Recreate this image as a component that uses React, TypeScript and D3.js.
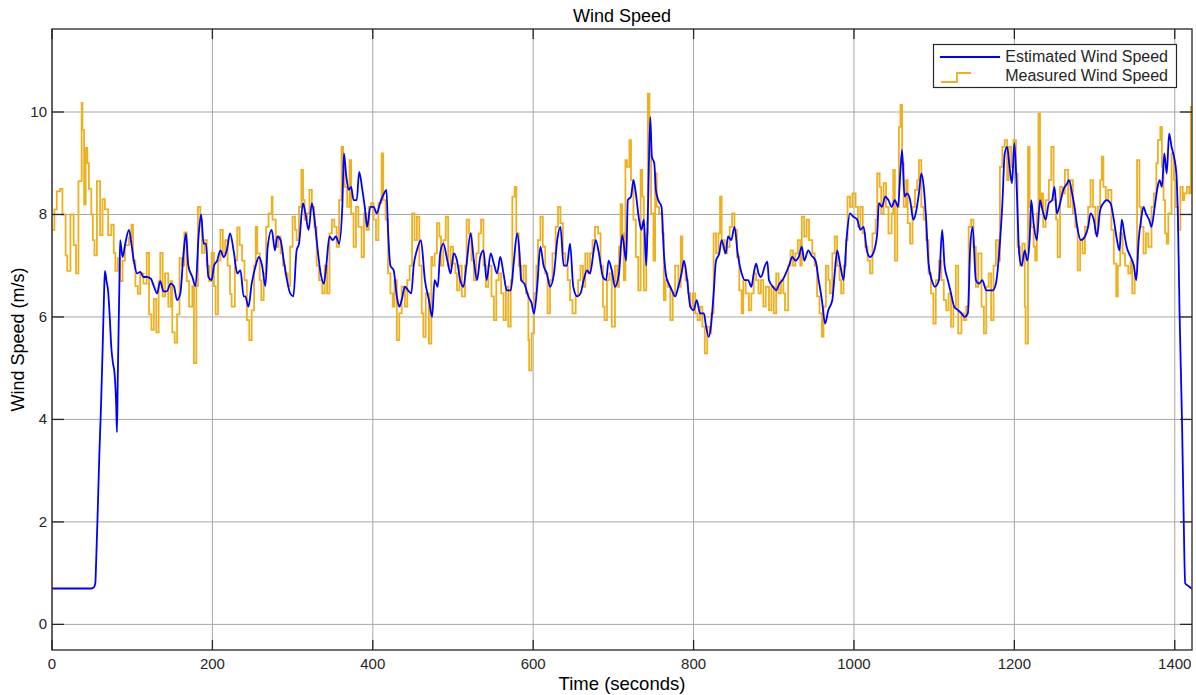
import React, { useEffect, useRef } from "react";
import * as d3 from "d3";

// time (s), speed (m/s)
const estimated: [number, number][] = [
  [0, 0.7], [48, 0.7], [52, 0.72], [54, 0.8], [55, 1.2], [57, 2.2], [59, 3.3], [61, 4.2], [63, 5.3], [65, 6.5], [66, 6.9],
  [68, 6.7], [70, 6.5], [72, 6.0], [74, 5.4], [76, 5.1], [78, 4.9], [80, 4.3], [81, 3.75], [82, 4.8], [84, 6.6], [85, 7.5],
  [88, 7.17], [91, 7.4], [96, 7.7], [99, 7.43], [102, 7.1], [106, 6.85], [110, 6.88], [114, 6.78], [118, 6.78], [123, 6.75],
  [127, 6.6], [131, 6.46], [135, 6.7], [139, 6.5], [143, 6.5], [148, 6.65], [152, 6.6], [156, 6.33], [160, 6.46], [164, 7.24],
  [167, 7.63], [170, 7.0], [175, 6.78], [179, 6.6], [183, 7.63], [186, 8.0], [189, 7.43], [192, 7.43], [195, 6.78], [199, 6.72],
  [202, 7.0], [206, 7.1], [210, 7.3], [214, 7.17], [218, 7.3], [222, 7.63], [227, 7.24], [231, 6.85], [235, 6.91], [239, 6.4],
  [241, 6.4], [245, 6.2], [249, 6.65], [254, 7.0], [258, 7.17], [262, 7.0], [266, 6.6], [269, 7.37], [274, 7.7], [278, 7.3],
  [281, 7.57], [285, 7.5], [289, 7.1], [293, 6.72], [297, 6.46], [301, 6.4], [305, 7.3], [308, 7.43], [313, 8.22], [316, 8.02],
  [320, 7.7], [324, 8.22], [327, 7.96], [330, 7.5], [335, 6.85], [339, 6.65], [342, 7.0], [346, 7.57], [350, 7.5], [354, 7.57],
  [358, 7.43], [362, 8.15], [364, 9.19], [367, 8.74], [370, 8.48], [373, 8.54], [376, 8.28], [380, 8.28], [383, 8.83], [387, 8.48],
  [390, 8.15], [393, 7.76], [397, 8.15], [401, 8.15], [405, 8.02], [409, 8.22], [414, 8.41], [417, 8.48], [419, 7.7], [422, 7.0],
  [426, 6.91], [430, 6.4], [433, 6.2], [436, 6.33], [440, 6.59], [444, 6.52], [448, 6.46], [451, 7.0], [455, 7.3], [460, 7.5],
  [465, 6.72], [470, 6.33], [474, 6.0], [477, 6.72], [481, 6.59], [484, 7.24], [488, 7.43], [493, 7.1], [497, 6.85], [501, 7.24],
  [505, 7.1], [509, 6.72], [513, 6.59], [517, 7.04], [522, 7.63], [526, 7.1], [530, 6.72], [534, 7.17], [538, 7.3], [542, 6.72],
  [547, 7.24], [551, 7.04], [555, 6.85], [559, 7.17], [563, 6.85], [567, 6.52], [572, 6.52], [576, 7.1], [580, 7.63], [583, 7.24],
  [585, 6.72], [589, 6.65], [594, 6.4], [598, 6.27], [601, 6.07], [605, 6.59], [609, 7.37], [613, 7.0], [617, 6.85], [621, 6.59],
  [626, 6.85], [630, 7.5], [634, 7.76], [638, 7.0], [642, 7.0], [646, 7.43], [650, 6.59], [655, 6.4], [659, 6.46], [663, 6.72],
  [667, 6.91], [671, 6.85], [675, 7.24], [678, 7.5], [682, 7.24], [687, 6.78], [691, 6.72], [694, 7.1], [698, 6.91], [702, 6.59],
  [707, 6.85], [711, 7.6], [716, 7.1], [718, 8.28], [722, 8.35], [725, 8.67], [728, 8.41], [732, 7.9], [735, 7.7], [738, 7.9],
  [741, 7.0], [743, 8.02], [746, 9.9], [748, 9.13], [751, 9.0], [753, 8.48], [756, 8.28], [760, 8.15], [763, 7.24], [766, 6.78],
  [769, 6.65], [773, 6.52], [777, 6.4], [781, 6.59], [785, 6.85], [788, 7.1], [792, 6.72], [796, 6.2], [800, 6.13], [804, 6.33],
  [808, 6.07], [813, 6.07], [815, 5.87], [819, 5.61], [822, 5.87], [825, 6.46], [828, 7.1], [832, 7.24], [835, 7.5], [840, 7.24],
  [843, 7.57], [847, 7.5], [851, 7.76], [855, 7.24], [860, 6.85], [864, 6.72], [868, 6.72], [872, 6.59], [875, 6.85], [878, 7.04],
  [881, 6.85], [884, 6.78], [889, 7.0], [892, 7.08], [894, 6.72], [899, 6.59], [903, 6.52], [907, 6.65], [911, 6.72], [915, 6.85],
  [919, 7.0], [923, 7.17], [927, 7.1], [931, 7.17], [935, 7.37], [938, 7.1], [943, 7.3], [947, 7.2], [952, 7.1], [956, 6.72],
  [960, 6.33], [964, 5.87], [968, 6.13], [973, 6.33], [976, 6.85], [979, 7.3], [983, 7.0], [987, 6.72], [991, 7.57], [995, 8.02],
  [999, 7.96], [1004, 7.9], [1008, 7.7], [1012, 7.76], [1016, 7.3], [1020, 7.17], [1024, 7.24], [1029, 7.63], [1031, 8.22],
  [1035, 8.15], [1039, 8.35], [1043, 8.28], [1047, 8.15], [1051, 8.28], [1055, 8.15], [1058, 8.87], [1060, 9.26], [1063, 8.35],
  [1066, 8.41], [1070, 8.28], [1074, 7.9], [1077, 8.02], [1081, 8.41], [1084, 8.8], [1087, 8.54], [1090, 7.9], [1093, 7.04],
  [1097, 6.72], [1101, 6.59], [1106, 6.72], [1110, 7.7], [1113, 7.0], [1117, 6.72], [1121, 6.46], [1125, 6.2], [1130, 6.13],
  [1134, 6.07], [1138, 6.0], [1142, 6.07], [1145, 7.37], [1148, 7.76], [1152, 6.72], [1156, 6.65], [1160, 6.72], [1165, 6.52],
  [1169, 6.52], [1173, 6.52], [1177, 6.65], [1181, 7.24], [1185, 8.2], [1188, 9.19], [1191, 9.32], [1194, 8.93], [1197, 8.61],
  [1200, 9.39], [1203, 8.48], [1206, 7.24], [1209, 7.0], [1213, 7.3], [1216, 7.1], [1219, 7.5], [1221, 8.28], [1224, 7.83],
  [1228, 7.5], [1232, 8.28], [1235, 8.09], [1239, 7.9], [1243, 8.22], [1247, 8.28], [1250, 8.54], [1253, 8.02], [1257, 8.22],
  [1261, 8.48], [1266, 8.61], [1268, 8.67], [1272, 8.41], [1275, 8.15], [1279, 7.7], [1283, 7.5], [1288, 7.57], [1292, 7.76],
  [1295, 8.02], [1299, 7.9], [1303, 7.57], [1307, 8.09], [1311, 8.22], [1315, 8.28], [1320, 8.22], [1324, 7.9], [1328, 7.5],
  [1331, 7.3], [1334, 7.9], [1337, 7.63], [1340, 7.37], [1345, 7.17], [1349, 7.0], [1352, 6.72], [1355, 7.5], [1358, 7.9],
  [1361, 8.15], [1364, 8.02], [1368, 7.9], [1371, 7.76], [1375, 8.15], [1378, 8.48], [1381, 8.67], [1384, 8.54], [1387, 9.19],
  [1390, 8.8], [1393, 9.58], [1396, 9.32], [1399, 9.13], [1402, 8.8], [1404, 7.9], [1406, 6.07], [1409, 4.0], [1411, 2.2],
  [1413, 0.8], [1417, 0.75], [1421, 0.7],
];

const measured: [number, number][] = [
  [0, 7.7], [3, 8.1], [6, 8.45], [10, 8.5], [13, 8.0], [17, 7.2], [19, 6.9], [23, 8.0], [27, 7.4], [30, 6.85], [33, 8.65],
  [37, 10.18], [38, 9.65], [40, 8.2], [42, 9.3], [44, 9.0], [46, 8.5], [49, 8.0], [51, 7.5], [53, 7.2], [56, 8.65], [60, 7.6],
  [63, 8.3], [66, 8.1], [70, 7.6], [74, 7.8], [77, 7.25], [79, 6.9], [82, 7.15], [85, 6.7], [88, 7.1], [91, 7.4], [96, 7.55],
  [99, 7.8], [101, 7.1], [104, 6.6], [107, 6.45], [110, 6.85], [114, 6.65], [118, 7.25], [121, 6.05], [124, 5.75], [127, 6.35],
  [130, 5.7], [133, 6.7], [135, 7.25], [138, 6.4], [141, 6.85], [145, 6.2], [148, 6.7], [150, 5.7], [153, 5.5], [156, 6.05],
  [159, 7.15], [162, 7.0], [165, 7.65], [168, 6.7], [171, 6.2], [175, 6.6], [177, 5.1], [180, 6.6], [182, 8.15], [185, 7.9],
  [187, 7.25], [190, 7.5], [193, 7.0], [196, 6.7], [199, 7.25], [202, 6.6], [204, 6.05], [207, 7.1], [210, 7.7], [213, 7.25],
  [216, 7.5], [219, 7.0], [222, 6.45], [224, 6.2], [228, 7.1], [231, 7.75], [234, 7.4], [237, 7.1], [240, 6.72], [243, 5.94],
  [246, 5.55], [249, 6.13], [252, 7.0], [254, 7.76], [256, 7.24], [259, 6.72], [261, 6.33], [264, 6.85], [267, 7.76], [270, 8.02],
  [274, 8.35], [275, 7.9], [279, 7.37], [282, 7.57], [285, 7.24], [288, 7.0], [291, 6.85], [294, 6.6], [297, 7.37], [300, 7.96],
  [303, 7.7], [305, 7.5], [308, 8.15], [311, 8.87], [313, 8.28], [315, 7.9], [318, 8.02], [321, 8.48], [324, 8.15], [327, 7.76],
  [330, 7.0], [333, 6.72], [337, 6.46], [340, 7.0], [343, 6.46], [346, 7.63], [349, 7.9], [352, 7.76], [355, 7.37], [358, 8.28],
  [361, 9.32], [363, 8.93], [365, 8.54], [368, 8.15], [371, 9.06], [373, 8.02], [376, 7.37], [379, 8.15], [382, 7.76], [386, 7.17],
  [389, 8.02], [392, 7.7], [395, 8.15], [398, 8.22], [401, 7.9], [404, 7.5], [407, 8.22], [411, 9.19], [413, 8.28], [416, 7.9],
  [419, 6.85], [422, 6.46], [425, 6.2], [427, 6.72], [430, 5.55], [433, 6.07], [436, 6.59], [440, 6.2], [443, 6.72], [446, 7.0],
  [449, 8.02], [452, 7.5], [455, 7.96], [458, 7.0], [461, 6.07], [463, 5.61], [466, 6.46], [470, 5.48], [473, 7.17], [474, 7.0],
  [477, 7.24], [480, 7.83], [483, 7.57], [485, 7.0], [488, 7.5], [491, 7.96], [494, 7.0], [497, 7.37], [500, 7.04], [503, 6.85],
  [505, 6.52], [508, 7.0], [511, 6.4], [515, 7.0], [517, 7.9], [520, 7.63], [523, 7.1], [526, 6.72], [529, 7.24], [532, 7.63],
  [535, 7.9], [538, 7.0], [541, 6.59], [544, 7.0], [548, 6.4], [551, 5.94], [554, 6.72], [557, 6.85], [560, 6.46], [563, 5.94],
  [566, 6.59], [569, 5.81], [572, 6.72], [574, 8.35], [577, 8.54], [579, 7.63], [582, 7.0], [585, 6.72], [588, 7.0], [591, 6.46],
  [594, 5.55], [595, 4.96], [598, 5.68], [601, 6.46], [604, 7.0], [606, 7.5], [609, 7.96], [612, 7.37], [615, 6.85], [618, 6.07],
  [621, 6.72], [624, 7.24], [628, 7.76], [631, 8.15], [634, 7.83], [637, 7.24], [640, 7.0], [643, 6.72], [646, 6.33], [649, 6.07],
  [653, 6.4], [656, 6.72], [659, 7.0], [662, 6.59], [665, 7.24], [668, 6.85], [671, 7.24], [674, 7.5], [677, 7.76], [681, 7.63],
  [684, 7.0], [687, 6.2], [689, 5.94], [692, 6.72], [695, 6.85], [698, 5.81], [702, 7.0], [705, 6.59], [707, 7.37], [709, 8.2],
  [711, 7.63], [713, 6.72], [715, 9.06], [717, 8.93], [720, 9.45], [722, 8.67], [725, 7.9], [728, 7.17], [731, 6.52], [734, 8.87],
  [736, 8.35], [738, 6.52], [741, 7.63], [743, 10.36], [745, 9.32], [747, 8.02], [750, 7.1], [752, 8.8], [754, 8.15], [757, 8.02],
  [761, 7.63], [763, 6.33], [765, 6.72], [768, 6.59], [771, 5.94], [774, 6.46], [777, 7.0], [781, 6.59], [784, 7.57], [786, 7.0],
  [790, 6.72], [793, 6.46], [796, 6.2], [799, 6.46], [802, 6.07], [805, 5.94], [808, 6.2], [811, 5.81], [814, 5.29], [817, 5.81],
  [820, 5.68], [822, 6.07], [825, 7.63], [828, 7.24], [831, 7.63], [833, 8.35], [835, 7.5], [839, 7.24], [842, 7.37], [845, 7.76],
  [848, 8.02], [851, 7.7], [854, 7.17], [857, 6.52], [860, 6.07], [862, 6.72], [865, 6.46], [869, 6.13], [872, 6.46], [875, 6.85],
  [878, 6.72], [881, 6.46], [884, 6.72], [887, 6.2], [890, 6.59], [894, 6.13], [897, 6.59], [900, 6.07], [903, 6.85], [906, 6.46],
  [909, 6.72], [912, 6.46], [914, 6.13], [918, 7.0], [921, 7.3], [924, 7.0], [927, 7.24], [930, 7.5], [933, 7.0], [935, 7.96],
  [938, 7.57], [941, 7.9], [944, 7.5], [948, 7.24], [951, 7.0], [954, 6.4], [957, 6.07], [960, 5.61], [962, 6.2], [965, 7.0],
  [968, 6.72], [970, 6.46], [973, 7.24], [976, 7.57], [979, 7.0], [982, 6.72], [984, 6.46], [987, 7.0], [990, 7.5], [992, 8.35],
  [995, 8.15], [998, 8.41], [1002, 8.15], [1005, 7.76], [1008, 8.15], [1011, 7.63], [1014, 7.37], [1017, 7.1], [1020, 6.85],
  [1023, 7.63], [1027, 7.9], [1029, 8.8], [1032, 8.54], [1034, 8.02], [1037, 8.61], [1040, 8.15], [1043, 7.63], [1047, 8.02],
  [1049, 8.87], [1051, 7.1], [1054, 8.15], [1056, 9.71], [1058, 10.14], [1060, 9.0], [1062, 8.15], [1065, 8.67], [1067, 7.83],
  [1070, 7.43], [1073, 8.15], [1076, 8.48], [1079, 8.67], [1081, 9.06], [1084, 8.15], [1087, 7.9], [1090, 7.5], [1093, 6.85],
  [1096, 6.46], [1099, 5.87], [1102, 6.72], [1106, 7.1], [1109, 6.72], [1112, 6.33], [1115, 6.13], [1118, 6.46], [1121, 5.81],
  [1124, 6.2], [1127, 7.0], [1130, 5.68], [1134, 6.07], [1137, 5.94], [1140, 6.2], [1143, 7.76], [1146, 7.9], [1149, 7.37],
  [1152, 6.59], [1155, 7.24], [1159, 6.2], [1162, 5.68], [1165, 6.59], [1168, 6.85], [1171, 5.94], [1174, 7.0], [1177, 7.5],
  [1180, 7.1], [1182, 8.93], [1185, 9.32], [1188, 9.45], [1191, 8.67], [1193, 9.32], [1196, 8.93], [1199, 9.45], [1202, 8.8],
  [1204, 7.37], [1207, 7.0], [1210, 7.43], [1213, 6.2], [1214, 5.48], [1217, 9.32], [1219, 8.15], [1221, 7.76], [1224, 7.37],
  [1226, 7.1], [1228, 8.02], [1230, 9.97], [1232, 8.15], [1234, 8.41], [1236, 7.76], [1239, 8.28], [1243, 8.67], [1246, 9.32],
  [1249, 8.28], [1252, 7.9], [1254, 7.17], [1257, 8.54], [1260, 8.41], [1263, 8.87], [1267, 8.15], [1270, 8.67], [1273, 8.02],
  [1276, 7.76], [1279, 6.91], [1282, 7.5], [1285, 7.24], [1288, 7.76], [1292, 8.15], [1295, 8.67], [1298, 8.15], [1301, 7.63],
  [1304, 8.15], [1307, 8.67], [1309, 9.13], [1311, 8.54], [1314, 8.28], [1317, 8.48], [1321, 7.7], [1324, 7.04], [1327, 6.4],
  [1329, 7.0], [1332, 7.63], [1335, 7.24], [1338, 7.0], [1342, 6.85], [1345, 7.1], [1347, 6.46], [1350, 6.85], [1353, 9.06],
  [1356, 8.15], [1358, 7.76], [1361, 7.24], [1364, 7.63], [1367, 7.37], [1371, 8.15], [1374, 8.41], [1377, 9.0], [1379, 9.45],
  [1382, 9.71], [1384, 8.93], [1386, 8.28], [1388, 7.63], [1390, 7.43], [1392, 8.02], [1396, 9.19], [1399, 8.67], [1401, 8.15],
  [1404, 7.7], [1407, 8.54], [1410, 8.28], [1412, 8.41], [1415, 8.54], [1418, 8.41], [1420, 10.1], [1421.5, 10.1],
];

const xTicks = [0, 200, 400, 600, 800, 1000, 1200, 1400];
const yTicks = [0, 2, 4, 6, 8, 10];
const seriesNames = ["Estimated Wind Speed", "Measured Wind Speed"];
const seriesColors = ["#0000ff", "#edb120"];

const W = 1196;
const H = 695;
const FONT = "'Liberation Sans', Arial, sans-serif";

export default function App() {
  const svgRef = useRef<SVGSVGElement>(null);

  useEffect(() => {
    const svg = d3.select(svgRef.current);
    svg.selectAll("*").remove();

    const left = 52, right = 1192, top = 29, bottom = 650;
    const x = d3.scaleLinear().domain([0, 1421.5]).range([left, right]);
    const y = d3.scaleLinear().domain([-0.5, 11.62]).range([bottom, top]);

    svg.append("rect").attr("width", W).attr("height", H).attr("fill", "#fff");

    // grid
    const grid = svg.append("g").attr("stroke", "#a6a6a6").attr("stroke-width", 1);
    xTicks.forEach((t) => {
      grid.append("line").attr("x1", x(t)).attr("x2", x(t)).attr("y1", top).attr("y2", bottom);
    });
    yTicks.forEach((t) => {
      grid.append("line").attr("x1", left).attr("x2", right).attr("y1", y(t)).attr("y2", y(t));
    });

    const clip = svg.append("clipPath").attr("id", "plotclip");
    clip.append("rect").attr("x", left).attr("y", top).attr("width", right - left).attr("height", bottom - top);

    const plot = svg.append("g").attr("clip-path", "url(#plotclip)");

    const measLine = d3.line<[number, number]>()
      .x((d) => x(d[0]))
      .y((d) => y(d[1]))
      .curve(d3.curveStepAfter);
    plot.append("path")
      .datum(measured)
      .attr("d", measLine)
      .attr("fill", "none")
      .attr("stroke", seriesColors[1])
      .attr("stroke-width", 1.8);

    const estLine = d3.line<[number, number]>()
      .x((d) => x(d[0]))
      .y((d) => y(d[1]))
      .curve(d3.curveMonotoneX);
    plot.append("path")
      .datum(estimated)
      .attr("d", estLine)
      .attr("fill", "none")
      .attr("stroke", seriesColors[0])
      .attr("stroke-width", 1.8)
      .attr("stroke-linejoin", "round");

    // box and ticks on all sides
    const axisColor = "#262626";
    svg.append("rect")
      .attr("x", left).attr("y", top)
      .attr("width", right - left).attr("height", bottom - top)
      .attr("fill", "none").attr("stroke", axisColor).attr("stroke-width", 1.3);

    const ticks = svg.append("g").attr("stroke", axisColor).attr("stroke-width", 1.3);
    xTicks.forEach((t) => {
      ticks.append("line").attr("x1", x(t)).attr("x2", x(t)).attr("y1", bottom).attr("y2", bottom - 10);
      ticks.append("line").attr("x1", x(t)).attr("x2", x(t)).attr("y1", top).attr("y2", top + 10);
    });
    yTicks.forEach((t) => {
      ticks.append("line").attr("x1", left).attr("x2", left + 12).attr("y1", y(t)).attr("y2", y(t));
      ticks.append("line").attr("x1", right).attr("x2", right - 12).attr("y1", y(t)).attr("y2", y(t));
    });

    const labels = svg.append("g").attr("font-family", FONT).attr("fill", axisColor);
    labels.selectAll("text.xt")
      .data(xTicks)
      .enter()
      .append("text")
      .attr("x", (d) => x(d))
      .attr("y", bottom + 19)
      .attr("text-anchor", "middle")
      .attr("font-size", 15)
      .text((d) => d);
    labels.selectAll("text.yt")
      .data(yTicks)
      .enter()
      .append("text")
      .attr("x", left - 5)
      .attr("y", (d) => y(d) + 5)
      .attr("text-anchor", "end")
      .attr("font-size", 15)
      .text((d) => d);

    labels.append("text")
      .attr("x", (left + right) / 2)
      .attr("y", 22)
      .attr("text-anchor", "middle")
      .attr("font-size", 18)
      .attr("fill", "#000")
      .text("Wind Speed");
    labels.append("text")
      .attr("x", (left + right) / 2)
      .attr("y", 690)
      .attr("text-anchor", "middle")
      .attr("font-size", 18.5)
      .attr("fill", "#000")
      .text("Time (seconds)");
    labels.append("text")
      .attr("transform", `translate(24, ${(top + bottom) / 2}) rotate(-90)`)
      .attr("text-anchor", "middle")
      .attr("font-size", 18)
      .attr("fill", "#000")
      .text("Wind Speed (m/s)");

    // legend
    const lg = svg.append("g");
    lg.append("rect")
      .attr("x", 933.5).attr("y", 44.5).attr("width", 243).attr("height", 43)
      .attr("fill", "#fff").attr("stroke", axisColor).attr("stroke-width", 1.2);
    lg.append("line")
      .attr("x1", 940).attr("x2", 1000).attr("y1", 57).attr("y2", 57)
      .attr("stroke", seriesColors[0]).attr("stroke-width", 1.8);
    lg.append("path")
      .attr("d", "M941,82 H957 V73 H971")
      .attr("fill", "none")
      .attr("stroke", seriesColors[1]).attr("stroke-width", 1.8);
    lg.selectAll("text")
      .data(seriesNames)
      .enter()
      .append("text")
      .attr("x", 1168)
      .attr("y", (_, i) => 62 + i * 19)
      .attr("text-anchor", "end")
      .attr("font-family", FONT)
      .attr("font-size", 16)
      .attr("fill", axisColor)
      .text((d) => d);
  }, []);

  return (
    <svg
      ref={svgRef}
      width={W}
      height={H}
      style={{ position: "absolute", left: 0, top: 0, display: "block" }}
    />
  );
}
